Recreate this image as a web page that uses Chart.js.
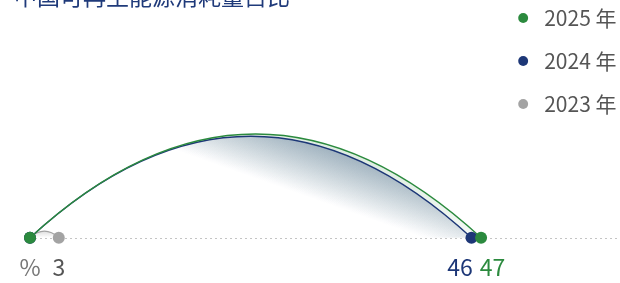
<!DOCTYPE html>
<html>
<head>
<meta charset="utf-8">
<script src="https://cdn.jsdelivr.net/npm/chart.js@4.4.1/dist/chart.umd.min.js"></script>
<style>
    html, body { margin: 0; padding: 0; background: #fff; overflow: hidden; }
    .wrap { position: relative; width: 620px; height: 283px; }
    .chart-title {
        position: absolute; left: 14px; top: -16px; z-index: 2;
        font: 23px/23px "Noto Sans CJK SC", sans-serif;
        color: #1f3a7a; white-space: nowrap;
    }
    canvas { display: block; }
</style>
</head>
<body>
<div class="wrap">
    <div class="chart-title">中国可再生能源消耗量占比</div>
    <canvas id="shareChart" width="620" height="283"></canvas>
</div>
<script>
// data
const years = ['2025 年', '2024 年', '2023 年'];
const shares = [47, 46, 3];
const tickValues = [0, 3, 46, 47];
const tickLabels = ['%', '3', '46\u2003', '\u200347'];

const seriesColors = ['#2b8a3e', '#1d3777', '#a3a3a3'];
const fontFamily = '"Noto Sans CJK SC", "Noto Sans", sans-serif';

function rgba(hex, a) {
    const n = parseInt(hex.slice(1), 16);
    return 'rgba(' + (n >> 16) + ',' + ((n >> 8) & 255) + ',' + (n & 255) + ',' + a + ')';
}

// arcs from the origin to each value, with a fading fill underneath
const arcPlugin = {
    id: 'shareArcs',
    beforeDatasetsDraw(chart) {
        const { ctx, chartArea, scales: { x, y } } = chart;
        const yb = y.getPixelForValue(0);

        ctx.save();
        ctx.strokeStyle = '#c4c4c4';
        ctx.lineWidth = 1;
        ctx.setLineDash([2, 3]);
        ctx.beginPath();
        ctx.moveTo(chartArea.left, Math.round(yb) + 0.5);
        ctx.lineTo(chart.width, Math.round(yb) + 0.5);
        ctx.stroke();
        ctx.setLineDash([]);

        const arcs = shares.map((v, i) => {
            const x0 = x.getPixelForValue(0);
            const x1 = x.getPixelForValue(v);
            const span = x1 - x0;
            return { i, x0, x1, span, h: span * 0.23, color: seriesColors[i] };
        });

        const path = a => {
            ctx.beginPath();
            ctx.moveTo(a.x0, yb);
            ctx.quadraticCurveTo(a.x0 + a.span / 2, yb - 2 * a.h, a.x1, yb);
        };

        arcs.forEach(a => {
            let grad;
            if (a.i === 2) {
                grad = ctx.createLinearGradient(0, yb - a.h, 0, yb);
                grad.addColorStop(0, rgba(a.color, 0.35));
                grad.addColorStop(1, rgba(a.color, 0));
            } else {
                const p1x = a.x0 + 0.35 * a.span, p1y = yb - 0.83 * a.h;
                const p2x = a.x0 + 0.89 * a.span, p2y = yb;
                const dx = p2x - p1x, dy = p2y - p1y;
                const len = Math.hypot(dx, dy);
                const L = 0.65 * a.h;
                grad = ctx.createLinearGradient(p1x, p1y, p1x + dy / len * L, p1y - dx / len * L);
                grad.addColorStop(0, rgba(a.color, 0));
                grad.addColorStop(1, rgba(a.color, a.i === 0 ? 0.2 : 0.4));
            }
            path(a);
            ctx.closePath();
            ctx.fillStyle = grad;
            ctx.fill();
        });

        arcs.slice().reverse().forEach(a => {
            path(a);
            ctx.strokeStyle = a.color;
            ctx.lineWidth = 1.3;
            ctx.stroke();
        });
        ctx.restore();
    }
};

new Chart(document.getElementById('shareChart'), {
    type: 'scatter',
    data: {
        datasets: years.map((label, i) => ({
            label: label,
            data: [{ x: 0, y: 0 }, { x: shares[i], y: 0 }],
            backgroundColor: seriesColors[i],
            borderColor: seriesColors[i],
            borderWidth: 0,
            pointRadius: 6,
            pointHoverRadius: 6,
            clip: false
        }))
    },
    options: {
        responsive: false,
        animation: false,
        layout: { padding: { left: 30, right: -6.5, top: -14.5, bottom: -14.4 } },
        plugins: {
            legend: {
                position: 'right',
                align: 'start',
                labels: {
                    usePointStyle: true,
                    pointStyle: 'circle',
                    boxWidth: 21,
                    boxHeight: 7,
                    padding: 22,
                    color: '#555',
                    font: { size: 21, family: fontFamily }
                }
            },
            tooltip: { enabled: false }
        },
        scales: {
            x: {
                type: 'linear',
                min: 0,
                max: 48,
                grid: { display: false, drawTicks: false },
                border: { display: false },
                afterBuildTicks: scale => {
                    scale.ticks = tickValues.map(v => ({ value: v }));
                },
                ticks: {
                    autoSkip: false,
                    maxRotation: 0,
                    padding: 16,
                    font: { size: 23, family: fontFamily },
                    color: c => {
                        const i = shares.indexOf(c.tick.value);
                        return i >= 0 && i < 2 ? seriesColors[i] : (c.tick.value === 0 ? '#777' : '#555');
                    },
                    callback: v => tickLabels[tickValues.indexOf(v)]
                }
            },
            y: { display: false, min: 0, max: 1 }
        }
    },
    plugins: [arcPlugin]
});
</script>
</body>
</html>
